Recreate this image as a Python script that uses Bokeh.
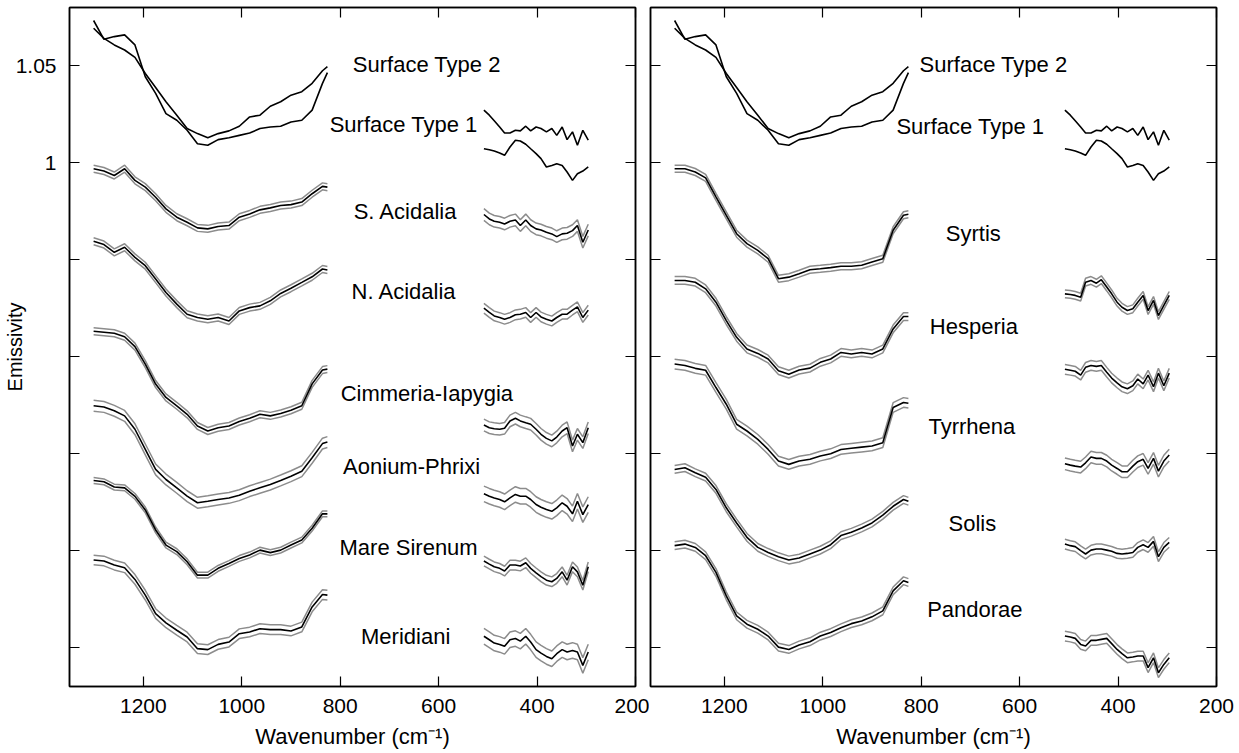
from bokeh.plotting import figure
from bokeh.layouts import row
from bokeh.models import Range1d, FixedTicker, LinearAxis, ColumnDataSource
from bokeh.core.properties import value
from bokeh.embed import file_html
from bokeh.resources import INLINE

FONT = "Liberation Sans"

# wavenumber grids (cm-1)
wn_hi = [1301, 1280, 1259, 1238, 1217, 1196, 1175, 1154, 1132, 1111, 1090, 1069,
         1048, 1026, 1005, 984, 963, 942, 921, 900, 878, 857, 836, 826]
wn_lo = [508, 497, 487, 476, 466, 455, 444, 434, 423, 413, 402, 392, 381, 370,
         360, 349, 339, 328, 318, 307, 296]

x_ticks = [1200, 1000, 800, 600, 400, 200]
y_ticks = [0.75, 0.80, 0.85, 0.90, 0.95, 1.00, 1.05]
y_labeled_ticks = [1.00, 1.05]
y_unlabeled_ticks = [0.75, 0.80, 0.85, 0.90, 0.95]
y_tick_labels = {1.00: "1", 1.05: "1.05"}

# Surface types (no error envelopes)
st2_hi = [1.0693, 1.0641, 1.0607, 1.0581, 1.0543, 1.046, 1.0388, 1.0314, 1.0245, 1.0176,
          1.015, 1.0129, 1.015, 1.0164, 1.0188, 1.0236, 1.0245, 1.0291, 1.0314, 1.0348,
          1.0366, 1.0409, 1.0474, 1.0495]
st2_lo = [1.0072, 1.0067, 1.006, 1.005, 1.0038, 1.0081, 1.0116, 1.0112, 1.0095, 1.0072,
          1.0047, 1.0021, 0.9978, 0.9986, 0.9995, 0.9986, 0.9952, 0.9909, 0.9943, 0.9957, 0.9978]
st1_hi = [1.0733, 1.0636, 1.065, 1.0659, 1.0607, 1.0443, 1.0357, 1.0253, 1.0219, 1.0167,
          1.0098, 1.009, 1.0119, 1.0129, 1.0141, 1.0153, 1.0176, 1.0184, 1.0188, 1.021,
          1.0219, 1.0271, 1.0409, 1.0464]
st1_lo = [1.0271, 1.0245, 1.0216, 1.0184, 1.0153, 1.0153, 1.0167, 1.0164, 1.0188, 1.0164,
          1.0184, 1.0176, 1.0159, 1.0176, 1.0141, 1.0184, 1.0119, 1.0159, 1.009, 1.0167, 1.0116]

# Regional spectra (offset), left panel
s_acidalia_hi = [0.9969, 0.9957, 0.9934, 0.9969, 0.9909, 0.9874, 0.9822, 0.9762, 0.9719, 0.9693,
                 0.9664, 0.9659, 0.9671, 0.9676, 0.9719, 0.9736, 0.9757, 0.9767, 0.9779, 0.9784,
                 0.9797, 0.984, 0.9878, 0.9874]
s_acidalia_lo = [0.9733, 0.971, 0.9698, 0.9693, 0.9684, 0.9698, 0.9705, 0.9676, 0.9705, 0.9676,
                 0.9659, 0.9653, 0.9641, 0.9633, 0.9619, 0.9633, 0.9636, 0.965, 0.9676, 0.959, 0.9653]
n_acidalia_hi = [0.9595, 0.9578, 0.9538, 0.9564, 0.9512, 0.9469, 0.94, 0.9331, 0.9271, 0.9219,
                 0.9202, 0.9193, 0.9202, 0.9184, 0.9236, 0.9253, 0.9262, 0.9288, 0.9326, 0.9353,
                 0.9383, 0.9412, 0.9452, 0.9447]
n_acidalia_lo = [0.925, 0.9228, 0.921, 0.9202, 0.9193, 0.9202, 0.9216, 0.9219, 0.9228, 0.9202,
                 0.9228, 0.9205, 0.9193, 0.9184, 0.9202, 0.9219, 0.9219, 0.924, 0.9257, 0.9202, 0.924]
cimmeria_hi = [0.9131, 0.9126, 0.9121, 0.9103, 0.9052, 0.8962, 0.8859, 0.879, 0.8747, 0.8703,
               0.8643, 0.8617, 0.8634, 0.8643, 0.8666, 0.8683, 0.8703, 0.8695, 0.8707, 0.8724,
               0.8747, 0.886, 0.8931, 0.8936]
cimmeria_lo = [0.8648, 0.8634, 0.8629, 0.8626, 0.8631, 0.8669, 0.8683, 0.8669, 0.866, 0.8652,
               0.8626, 0.86, 0.8579, 0.8566, 0.8586, 0.8617, 0.8634, 0.854, 0.86, 0.8557, 0.8634]
aonium_hi = [0.8747, 0.8741, 0.8721, 0.8695, 0.8626, 0.8522, 0.8419, 0.8367, 0.8324, 0.8281,
             0.8247, 0.8255, 0.8264, 0.8272, 0.8286, 0.8307, 0.8324, 0.8341, 0.8362, 0.8384,
             0.841, 0.8479, 0.8552, 0.856]
aonium_lo = [0.8293, 0.8281, 0.8272, 0.8264, 0.8252, 0.8272, 0.829, 0.8281, 0.8281, 0.8264,
             0.8238, 0.8224, 0.8212, 0.8203, 0.8221, 0.8247, 0.8229, 0.819, 0.8255, 0.8186, 0.8238]
sirenum_hi = [0.8362, 0.8355, 0.8328, 0.8324, 0.828, 0.821, 0.8107, 0.8029, 0.7995, 0.7943,
              0.7874, 0.7874, 0.7909, 0.7934, 0.796, 0.7978, 0.8003, 0.799, 0.8003, 0.8029,
              0.8055, 0.8116, 0.819, 0.819]
sirenum_lo = [0.7947, 0.7931, 0.7917, 0.7909, 0.7895, 0.7926, 0.7926, 0.7921, 0.7938, 0.7909,
              0.7886, 0.7866, 0.7848, 0.784, 0.7857, 0.7891, 0.7848, 0.7917, 0.7891, 0.7822, 0.7917]
meridiani_hi = [0.7952, 0.7947, 0.7926, 0.7912, 0.7852, 0.7771, 0.7676, 0.7628, 0.759, 0.7555,
                0.7495, 0.749, 0.7517, 0.7529, 0.7572, 0.7581, 0.7598, 0.7593, 0.7593, 0.7586,
                0.7607, 0.771, 0.7774, 0.7771]
meridiani_lo = [0.7559, 0.7541, 0.7524, 0.7517, 0.7507, 0.7541, 0.7547, 0.7534, 0.7559, 0.7529,
                0.749, 0.7472, 0.7455, 0.7443, 0.7469, 0.749, 0.7478, 0.7486, 0.7478, 0.7409, 0.7478]

# right panel
syrtis_hi = [0.9969, 0.9969, 0.9952, 0.9922, 0.9824, 0.9729, 0.9634, 0.9583, 0.9548, 0.9505,
             0.9402, 0.941, 0.9428, 0.9448, 0.9453, 0.9459, 0.9466, 0.9466, 0.9471, 0.9488,
             0.9505, 0.9652, 0.9729, 0.9734]
syrtis_lo = [0.9324, 0.9321, 0.9316, 0.9307, 0.9384, 0.9393, 0.9379, 0.9397, 0.9359, 0.9324,
             0.9281, 0.9255, 0.9238, 0.9247, 0.9281, 0.9316, 0.9238, 0.929, 0.9212, 0.9264, 0.9316]
hesperia_hi = [0.9393, 0.9393, 0.9384, 0.935, 0.9281, 0.9186, 0.91, 0.904, 0.9017, 0.8988,
               0.8928, 0.891, 0.8931, 0.8941, 0.8971, 0.8988, 0.9022, 0.9014, 0.9022, 0.9014,
               0.904, 0.9143, 0.9207, 0.9207]
hesperia_lo = [0.8935, 0.893, 0.8925, 0.8905, 0.8945, 0.8955, 0.895, 0.8955, 0.892, 0.889,
               0.8865, 0.8845, 0.8835, 0.885, 0.8885, 0.886, 0.8905, 0.8845, 0.8915, 0.885, 0.8915]
tyrrhena_hi = [0.8962, 0.8955, 0.894, 0.893, 0.8841, 0.8755, 0.8652, 0.8617, 0.8574, 0.8522,
               0.8462, 0.8445, 0.8462, 0.8471, 0.8488, 0.85, 0.8522, 0.8528, 0.8534, 0.854,
               0.8557, 0.8738, 0.8764, 0.876]
tyrrhena_lo = [0.8448, 0.8441, 0.8436, 0.8431, 0.8453, 0.8483, 0.8476, 0.8476, 0.8462, 0.8441,
               0.8424, 0.8407, 0.8407, 0.8436, 0.8459, 0.8471, 0.8424, 0.8476, 0.841, 0.8462, 0.8493]
solis_hi = [0.8419, 0.8428, 0.8402, 0.8379, 0.8316, 0.8221, 0.8143, 0.8069, 0.8017, 0.7991,
            0.7969, 0.7952, 0.7962, 0.7983, 0.8003, 0.8031, 0.8078, 0.8095, 0.8117, 0.8143,
            0.8183, 0.8229, 0.8264, 0.8255]
solis_lo = [0.8034, 0.8026, 0.8021, 0.80, 0.7983, 0.8003, 0.8009, 0.8009, 0.8003, 0.7997,
            0.7986, 0.7983, 0.7986, 0.7991, 0.8017, 0.8031, 0.8017, 0.8048, 0.7969, 0.8017, 0.8043]
pandorae_hi = [0.8026, 0.8034, 0.8017, 0.7974, 0.7888, 0.7767, 0.7664, 0.7621, 0.7595, 0.756,
               0.7503, 0.7491, 0.7514, 0.7531, 0.756, 0.7578, 0.7603, 0.7624, 0.7638, 0.7659,
               0.769, 0.7793, 0.7845, 0.7836]
pandorae_lo = [0.756, 0.7555, 0.7548, 0.7517, 0.7509, 0.7538, 0.7538, 0.7543, 0.7548, 0.7521,
               0.7491, 0.7469, 0.7448, 0.7452, 0.7457, 0.7457, 0.7397, 0.7448, 0.7371, 0.7414, 0.7448]

# one-sigma envelopes (emissivity) for the high and low ranges
err_hi = {"S. Acidalia": 0.0018, "N. Acidalia": 0.0018, "Cimmeria-Iapygia": 0.0018,
          "Aonium-Phrixi": 0.0028, "Mare Sirenum": 0.0015, "Meridiani": 0.0025,
          "Syrtis": 0.0018, "Hesperia": 0.002, "Tyrrhena": 0.0025, "Solis": 0.002, "Pandorae": 0.002}
err_lo = {"S. Acidalia": 0.003, "N. Acidalia": 0.0025, "Cimmeria-Iapygia": 0.003,
          "Aonium-Phrixi": 0.004, "Mare Sirenum": 0.0025, "Meridiani": 0.004,
          "Syrtis": 0.002, "Hesperia": 0.0025, "Tyrrhena": 0.003, "Solis": 0.0025, "Pandorae": 0.0025}

left_regions = [("S. Acidalia", s_acidalia_hi, s_acidalia_lo),
                ("N. Acidalia", n_acidalia_hi, n_acidalia_lo),
                ("Cimmeria-Iapygia", cimmeria_hi, cimmeria_lo),
                ("Aonium-Phrixi", aonium_hi, aonium_lo),
                ("Mare Sirenum", sirenum_hi, sirenum_lo),
                ("Meridiani", meridiani_hi, meridiani_lo)]
right_regions = [("Syrtis", syrtis_hi, syrtis_lo),
                 ("Hesperia", hesperia_hi, hesperia_lo),
                 ("Tyrrhena", tyrrhena_hi, tyrrhena_lo),
                 ("Solis", solis_hi, solis_lo),
                 ("Pandorae", pandorae_hi, pandorae_lo)]

# label anchor points (wavenumber, emissivity)
left_label_pos = {"Surface Type 2": (624, 1.0505), "Surface Type 1": (671, 1.0196),
                  "S. Acidalia": (667, 0.9748), "N. Acidalia": (670, 0.9335),
                  "Cimmeria-Iapygia": (624, 0.8812), "Aonium-Phrixi": (655, 0.8436),
                  "Mare Sirenum": (661, 0.8015), "Meridiani": (667, 0.7557)}
right_label_pos = {"Surface Type 2": (653, 1.0505), "Surface Type 1": (700, 1.0188),
                   "Syrtis": (694, 0.9637), "Hesperia": (693, 0.9155),
                   "Tyrrhena": (697, 0.8639), "Solis": (696, 0.8139),
                   "Pandorae": (691, 0.7696)}

GRAY = "#8c8c8c"


def style_axis(ax, ticker, show_labels, overrides=None):
    ax.ticker = ticker
    ax.major_tick_in = 10
    ax.major_tick_out = 0
    ax.minor_tick_in = 10
    ax.minor_tick_out = 0
    ax.axis_line_color = "black"
    ax.axis_line_width = 1.5
    ax.major_tick_line_color = "black"
    ax.major_tick_line_width = 1.2
    ax.minor_tick_line_color = "black"
    ax.minor_tick_line_width = 1.2
    ax.major_label_text_font = FONT
    if show_labels:
        ax.major_label_text_color = "black"
        ax.major_label_text_font_size = "21px"
        if overrides:
            ax.major_label_overrides = overrides
    else:
        ax.major_label_text_color = None
        ax.major_label_text_font_size = "1px"
        ax.major_label_standoff = 0


def make_panel(regions, label_pos, left_border, right_border, show_y_labels):
    w = left_border + 566 + right_border
    p = figure(width=w, height=753, output_backend="svg", toolbar_location=None,
               x_range=Range1d(1350, 200), y_range=Range1d(0.7300, 1.0800),
               min_border_left=left_border, min_border_right=right_border,
               min_border_top=7, min_border_bottom=67)
    p.background_fill_color = "white"
    p.border_fill_color = "white"
    p.outline_line_color = "black"
    p.outline_line_width = 1.5
    p.xgrid.visible = False
    p.ygrid.visible = False

    style_axis(p.xaxis[0], FixedTicker(ticks=x_ticks), True)
    p.xaxis[0].major_label_standoff = 12
    p.xaxis[0].axis_label = "Wavenumber (cm\u207b\u00b9)"
    p.xaxis[0].axis_label_text_font = FONT
    p.xaxis[0].axis_label_text_font_size = "22px"
    p.xaxis[0].axis_label_text_font_style = "normal"
    p.xaxis[0].axis_label_text_color = "black"
    p.xaxis[0].axis_label_standoff = 8

    if show_y_labels:
        style_axis(p.yaxis[0], FixedTicker(ticks=y_labeled_ticks, minor_ticks=y_unlabeled_ticks),
                   True, y_tick_labels)
        p.yaxis[0].major_label_standoff = 13
        p.yaxis[0].axis_label = "Emissivity"
        p.yaxis[0].axis_label_text_font = FONT
        p.yaxis[0].axis_label_text_font_size = "20px"
        p.yaxis[0].axis_label_text_font_style = "normal"
        p.yaxis[0].axis_label_text_color = "black"
        p.yaxis[0].axis_label_standoff = -13
    else:
        style_axis(p.yaxis[0], FixedTicker(ticks=y_ticks), False)

    top = LinearAxis()
    style_axis(top, FixedTicker(ticks=x_ticks), False)
    p.add_layout(top, "above")
    right = LinearAxis()
    style_axis(right, FixedTicker(ticks=y_ticks), False)
    p.add_layout(right, "right")

    # surface types
    for hi, lo in [(st2_hi, st2_lo), (st1_hi, st1_lo)]:
        p.line(wn_hi, hi, line_color="black", line_width=1.6)
        p.line(wn_lo, lo, line_color="black", line_width=1.6)

    # regional spectra with envelopes
    for name, hi, lo in regions:
        eh, el = err_hi[name], err_lo[name]
        for sgn in (1, -1):
            p.line(wn_hi, [v + sgn * eh for v in hi], line_color=GRAY, line_width=1.5)
            p.line(wn_lo, [v + sgn * el for v in lo], line_color=GRAY, line_width=1.5)
        p.line(wn_hi, hi, line_color="black", line_width=1.6)
        p.line(wn_lo, lo, line_color="black", line_width=1.6)

    names = list(label_pos.keys())
    src = ColumnDataSource(dict(x=[label_pos[n][0] for n in names],
                                y=[label_pos[n][1] for n in names], t=names))
    p.text(x="x", y="y", text="t", source=src, text_font=value(FONT),
           text_font_size="22px", text_align="center", text_baseline="middle",
           text_color="black")
    return p


p_left = make_panel(left_regions, left_label_pos, 69, 14, True)
p_right = make_panel(right_regions, right_label_pos, 1, 23, False)

layout = row(p_left, p_right)
open("out.html", "w").write(file_html(layout, INLINE))
